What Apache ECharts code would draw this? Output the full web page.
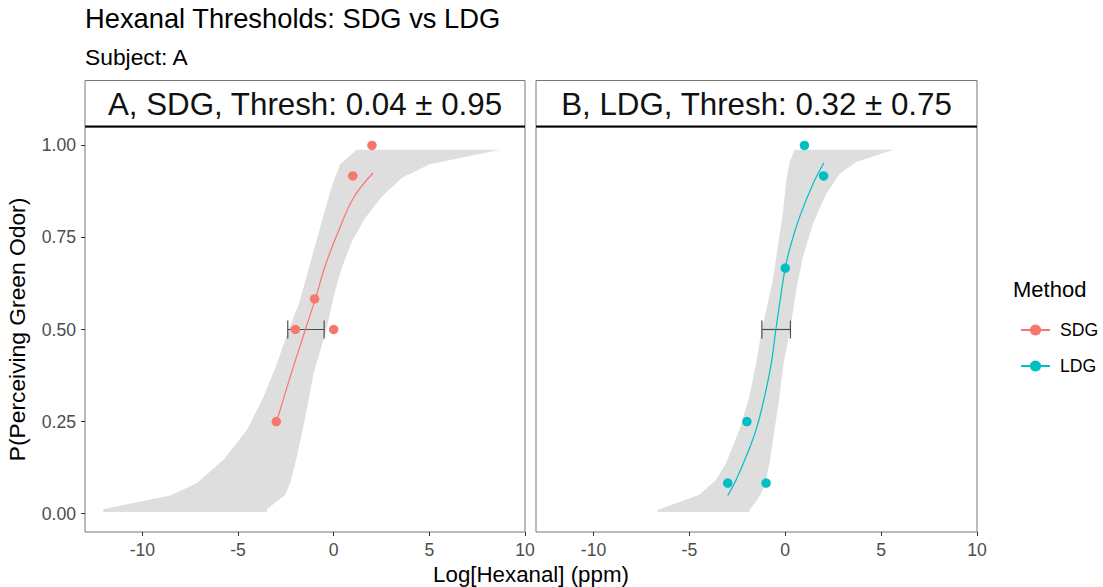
<!DOCTYPE html>
<html>
<head>
<meta charset="utf-8">
<script src="https://cdn.jsdelivr.net/npm/echarts@6/dist/echarts.min.js"></script>
<style>html,body{margin:0;padding:0;background:#fff}#c{width:1103px;height:587px}</style>
</head>
<body>
<div id="c"></div>
<script>
// ---- data ----
const titleText = "Hexanal Thresholds: SDG vs LDG";
const subtitleText = "Subject: A";
const stripLabels = ["A, SDG, Thresh: 0.04 \u00B1 0.95", "B, LDG, Thresh: 0.32 \u00B1 0.75"];
const methods = ["SDG", "LDG"];
const xTicks = [-10, -5, 0, 5, 10];
const yTicks = [0, 0.25, 0.5, 0.75, 1];

const sdgPoints = [[-3, 0.25], [-2, 0.5], [-1, 0.583], [0, 0.5], [1, 0.917], [2, 1.0]];
const ldgPoints = [[-3, 0.083], [-1, 0.083], [-2, 0.25], [0, 0.667], [2, 0.917], [1, 1.0]];

const sdgCurve = [[-2.95, 0.255], [-2.27, 0.372], [-1.48, 0.5], [-0.96, 0.583], [-0.43, 0.675], [0.24, 0.766], [1.04, 0.858], [2.05, 0.925]];
const ldgCurve = [[-3.0, 0.049], [-2.56, 0.092], [-2.04, 0.155], [-1.52, 0.228], [-1.08, 0.318], [-0.73, 0.408], [-0.49, 0.5], [-0.24, 0.589], [0, 0.667], [0.31, 0.734], [0.75, 0.806], [1.45, 0.896], [2.02, 0.953]];

const sdgBand = [[-12.05, 0.004], [-12.05, 0.012], [-8.5, 0.05], [-7.15, 0.083], [-5.76, 0.146], [-4.53, 0.228], [-3.66, 0.318], [-2.96, 0.408], [-2.35, 0.5], [-1.79, 0.574], [-1.35, 0.657], [-0.91, 0.739], [-0.47, 0.821], [-0.12, 0.885], [0.33, 0.949], [1.21, 0.988], [8.7, 0.988],
  [5.01, 0.949], [3.6, 0.913], [2.53, 0.862], [1.65, 0.803], [0.95, 0.739], [0.41, 0.666], [0.06, 0.602], [-0.38, 0.5], [-1.05, 0.381], [-1.48, 0.264], [-1.92, 0.155], [-2.27, 0.083], [-2.53, 0.051], [-3.49, 0.012], [-3.49, 0.004]];
const ldgBand = [[-6.66, 0.004], [-6.66, 0.01], [-4.48, 0.051], [-3.61, 0.092], [-3.09, 0.137], [-2.39, 0.228], [-1.87, 0.318], [-1.52, 0.408], [-1.22, 0.5], [-0.65, 0.634], [-0.39, 0.724], [-0.13, 0.815], [0.05, 0.905], [0.23, 0.955], [0.49, 0.988], [5.63, 0.988],
  [3.71, 0.955], [2.84, 0.923], [2.14, 0.869], [1.45, 0.788], [0.92, 0.697], [0.57, 0.607], [0.26, 0.5], [-0.09, 0.408], [-0.3, 0.318], [-0.56, 0.228], [-0.82, 0.137], [-1.08, 0.074], [-1.44, 0.038], [-1.87, 0.01], [-1.87, 0.004]];

const sdgErr = [-2.40, -0.50, 0.5];
const ldgErr = [-1.22, 0.27, 0.5];

// ---- styling ----
const FONT = "'Liberation Sans', Arial, sans-serif";
const colors = ["#F8766D", "#00BFC4"];
const bandFill = "#DEDEDE";
const panels = [{ left: 85, width: 440 }, { left: 536, width: 441 }];
const TOP = 127, HEIGHT = 405;

const chart = echarts.init(document.getElementById('c'), null, { renderer: 'svg' });

function bandSeries(band, idx) {
  return {
    type: 'custom', xAxisIndex: idx, yAxisIndex: idx, silent: true, z: 1,
    data: [[0, 0]],
    renderItem: function (params, api) {
      return { type: 'polygon', shape: { points: band.map(p => api.coord(p)) }, style: { fill: bandFill } };
    }
  };
}
function errSeries(err, idx) {
  return {
    type: 'custom', xAxisIndex: idx, yAxisIndex: idx, silent: true, z: 2,
    data: [err],
    renderItem: function (params, api) {
      const a = api.coord([api.value(0), api.value(2)]);
      const b = api.coord([api.value(1), api.value(2)]);
      const h = 9;
      const st = { stroke: '#4D4D4D', lineWidth: 1.2, fill: null };
      return {
        type: 'group', children: [
          { type: 'line', shape: { x1: a[0], y1: a[1], x2: b[0], y2: b[1] }, style: st },
          { type: 'line', shape: { x1: a[0], y1: a[1] - h, x2: a[0], y2: a[1] + h }, style: st },
          { type: 'line', shape: { x1: b[0], y1: b[1] - h, x2: b[0], y2: b[1] + h }, style: st }
        ]
      };
    }
  };
}
function lineSeries(name, data, idx) {
  return {
    name: name, type: 'line', xAxisIndex: idx, yAxisIndex: idx, data: data, smooth: 0.4,
    symbol: 'circle', symbolSize: 9, showSymbol: false, z: 3,
    lineStyle: { color: colors[idx], width: 1.2 }, itemStyle: { color: colors[idx] }
  };
}
function scatterSeries(name, data, idx) {
  return {
    name: name, type: 'scatter', xAxisIndex: idx, yAxisIndex: idx, data: data,
    symbol: 'circle', symbolSize: 9.5, z: 4, itemStyle: { color: colors[idx], opacity: 1 }
  };
}

const graphics = [
  { type: 'text', left: 85, top: 5, style: { text: titleText, font: "27.3px " + FONT, fill: '#000' } },
  { type: 'text', left: 85, top: 45, style: { text: subtitleText, font: "22.8px " + FONT, fill: '#000' } },
  { type: 'text', x: 531, y: 574, style: { text: 'Log[Hexanal] (ppm)', font: "22.3px " + FONT, fill: '#000', align: 'center', verticalAlign: 'middle' } },
  { type: 'text', x: 17, y: 329.5, rotation: Math.PI / 2, style: { text: 'P(Perceiving Green Odor)', font: "22.8px " + FONT, fill: '#000', align: 'center', verticalAlign: 'middle' } },
  { type: 'text', x: 1013, y: 289, style: { text: 'Method', font: "22px " + FONT, fill: '#000', align: 'left', verticalAlign: 'middle' } }
];
panels.forEach((p, i) => {
  graphics.push({ type: 'rect', shape: { x: p.left, y: 80.5, width: p.width, height: 46 }, style: { fill: '#fff', stroke: '#777', lineWidth: 1 }, z: 10 });
  graphics.push({ type: 'line', shape: { x1: p.left, y1: 126.5, x2: p.left + p.width, y2: 126.5 }, style: { stroke: '#000', lineWidth: 2 }, z: 11 });
  graphics.push({ type: 'text', x: p.left + p.width / 2, y: 104, style: { text: stripLabels[i], font: "31.3px " + FONT, fill: '#111', align: 'center', verticalAlign: 'middle' }, z: 12 });
});

const option = {
  animation: false,
  backgroundColor: '#fff',
  textStyle: { fontFamily: FONT },
  grid: panels.map(p => ({ left: p.left, top: TOP, width: p.width, height: HEIGHT, show: true, borderColor: '#777', borderWidth: 1, backgroundColor: 'transparent' })),
  xAxis: panels.map((p, i) => ({
    type: 'value', gridIndex: i, min: -13, max: 10,
    axisLine: { show: false, onZero: false },
    splitLine: { show: false },
    axisTick: { show: true, customValues: xTicks, length: 4, lineStyle: { color: '#333' } },
    axisLabel: { show: true, customValues: xTicks, margin: 9, fontSize: 17.6, color: '#4D4D4D', fontFamily: FONT }
  })),
  yAxis: panels.map((p, i) => ({
    type: 'value', gridIndex: i, min: -0.05, max: 1.05,
    axisLine: { show: false, onZero: false },
    splitLine: { show: false },
    axisTick: { show: i === 0, customValues: yTicks, length: 4, lineStyle: { color: '#333' } },
    axisLabel: { show: i === 0, customValues: yTicks, margin: 9, fontSize: 17.6, color: '#4D4D4D', fontFamily: FONT, formatter: v => v.toFixed(2) }
  })),
  legend: {
    orient: 'vertical', left: 1015, top: 316, itemWidth: 29, itemHeight: 14, itemGap: 18,
    data: methods, selectedMode: false,
    textStyle: { fontSize: 17.6, color: '#000', fontFamily: FONT, padding: [0, 0, 0, 5] }
  },
  graphic: graphics,
  series: [
    bandSeries(sdgBand, 0), bandSeries(ldgBand, 1),
    errSeries(sdgErr, 0), errSeries(ldgErr, 1),
    lineSeries(methods[0], sdgCurve, 0), lineSeries(methods[1], ldgCurve, 1),
    scatterSeries(methods[0], sdgPoints, 0), scatterSeries(methods[1], ldgPoints, 1)
  ]
};
chart.setOption(option);
</script>
</body>
</html>
